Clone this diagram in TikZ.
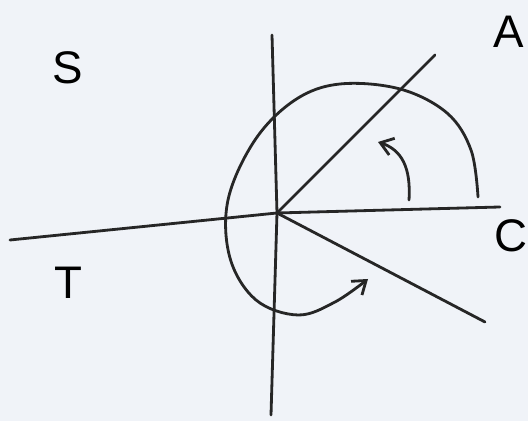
\documentclass[tikz,border=0pt]{standalone}
\usepackage{fontspec}
\setmainfont{Liberation Sans}
\usetikzlibrary{arrows.meta}
\definecolor{paper}{RGB}{240,243,248}
\begin{document}
\begin{tikzpicture}[x=0.02cm,y=-0.02cm,line width=1.6pt,line cap=round,
  sketch/.style={draw=black!85},
  barb/.style={-{Straight Barb[length=7pt,width=10pt,line width=1.6pt]}},
  lbl/.style={font=\fontsize{26}{30}\selectfont}]
\fill[paper] (0,0) rectangle (528,421);
\useasboundingbox (0,0) rectangle (528,421);
\coordinate (O) at (277,213);
\coordinate (top) at (272,35);
\coordinate (bot) at (271,415);
\coordinate (left) at (10,240);
\coordinate (right) at (500,207);
\coordinate (a) at (435,55);
\coordinate (c) at (485,322);
\draw[sketch] (top) -- (O) -- (bot);
\draw[sketch] (left) -- (O) -- (right);
\draw[sketch] (O) -- (a);
\draw[sketch] (O) -- (c);
\draw[sketch,barb] plot[smooth,tension=0.6] coordinates {(478,197) (471,150) (447,113) (400,89) (340,84) (295,100) (255,140) (228,200) (230,258) (256,300) (298,315) (335,302) (368,279)};
\coordinate (s1) at (409,200);
\coordinate (s2) at (378,142);
\draw[sketch,barb] (s1) .. controls (411,168) and (402,150) .. (s2);
\node[lbl] (S) at (68,68) {S};
\node[lbl] (A) at (509,32) {A};
\node[lbl] (C) at (511,236) {C};
\node[lbl] (T) at (68,283) {T};
\end{tikzpicture}
\end{document}
